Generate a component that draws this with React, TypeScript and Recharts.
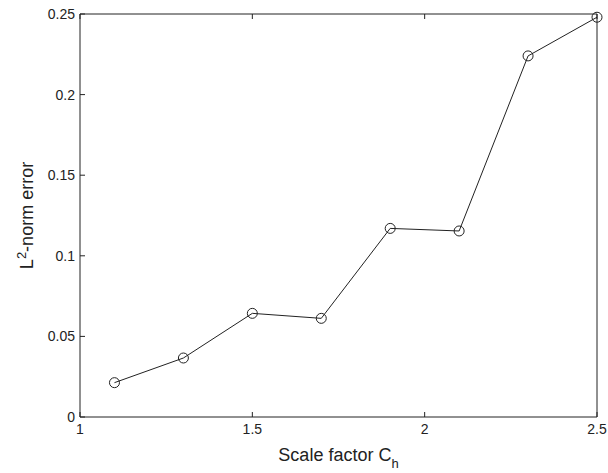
import { LineChart, Line, XAxis, YAxis, Label } from "recharts";

const scaleFactor = [1.1, 1.3, 1.5, 1.7, 1.9, 2.1, 2.3, 2.5];
const normError = [0.0213, 0.0366, 0.0643, 0.0612, 0.117, 0.1154, 0.224, 0.248];

const xTicks = [1, 1.5, 2, 2.5];
const yTicks = [0, 0.05, 0.1, 0.15, 0.2, 0.25];

const data = scaleFactor.map((x, i) => ({ x, err: normError[i] }));

const FONT = "'Liberation Sans', Arial, Helvetica, sans-serif";
const INK = "#222";

const BottomTick = ({ x, y, payload }: any) => (
  <g>
    <line x1={x} y1={y} x2={x} y2={y - 5} stroke={INK} />
    <text x={x} y={y + 17} textAnchor="middle" fontSize={14} fontFamily={FONT} fill={INK}>
      {payload.value}
    </text>
  </g>
);

const TopTick = ({ x, y }: any) => <line x1={x} y1={y} x2={x} y2={y + 5} stroke={INK} />;

const LeftTick = ({ x, y, payload }: any) => (
  <g>
    <line x1={x} y1={y} x2={x + 5} y2={y} stroke={INK} />
    <text x={x - 5} y={y + 5} textAnchor="end" fontSize={14} fontFamily={FONT} fill={INK}>
      {payload.value}
    </text>
  </g>
);

const RightTick = ({ x, y }: any) => <line x1={x} y1={y} x2={x - 5} y2={y} stroke={INK} />;

const Dot = ({ cx, cy }: any) => (
  <circle cx={cx} cy={cy} r={5} fill="none" stroke={INK} strokeWidth={1} />
);

export default function App() {
  return (
    <div style={{ position: "absolute", left: 0, top: 0, background: "#fff" }}>
      <LineChart width={608} height={473} data={data} margin={{ top: 0, right: 0, bottom: 0, left: 0 }}>
        <XAxis
          xAxisId="b"
          dataKey="x"
          type="number"
          domain={[1, 2.5]}
          ticks={xTicks}
          height={56}
          axisLine={{ stroke: INK }}
          tickLine={false}
          tickSize={0}
          tickMargin={0}
          tick={<BottomTick />}
          interval={0}
        >
          <Label
            content={({ viewBox }: any) => (
              <text
                x={viewBox.x + viewBox.width / 2}
                y={viewBox.y + 44}
                textAnchor="middle"
                fontSize={18}
                fontFamily={FONT}
                fill={INK}
              >
                Scale factor C
                <tspan dy={7} fontSize={13}>h</tspan>
              </text>
            )}
          />
        </XAxis>
        <XAxis
          xAxisId="t"
          orientation="top"
          dataKey="x"
          type="number"
          domain={[1, 2.5]}
          ticks={xTicks}
          height={14}
          axisLine={{ stroke: INK }}
          tickLine={false}
          tickSize={0}
          tickMargin={0}
          tick={<TopTick />}
          interval={0}
        />
        <YAxis
          yAxisId="l"
          type="number"
          domain={[0, 0.25]}
          ticks={yTicks}
          width={80}
          axisLine={{ stroke: INK }}
          tickLine={false}
          tickSize={0}
          tickMargin={0}
          tick={<LeftTick />}
          interval={0}
        >
          <Label
            content={({ viewBox }: any) => {
              const cx = 33;
              const cy = viewBox.y + viewBox.height / 2;
              return (
                <text
                  x={cx}
                  y={cy}
                  transform={`rotate(-90 ${cx} ${cy})`}
                  textAnchor="middle"
                  fontSize={18}
                  fontFamily={FONT}
                  fill={INK}
                >
                  L<tspan dy={-7} fontSize={13}>2</tspan>
                  <tspan dy={7}>-norm error</tspan>
                </text>
              );
            }}
          />
        </YAxis>
        <YAxis
          yAxisId="r"
          orientation="right"
          type="number"
          domain={[0, 0.25]}
          ticks={yTicks}
          width={11}
          axisLine={{ stroke: INK }}
          tickLine={false}
          tickSize={0}
          tickMargin={0}
          tick={<RightTick />}
          interval={0}
        />
        <Line
          xAxisId="b"
          yAxisId="l"
          dataKey="err"
          type="linear"
          stroke={INK}
          strokeWidth={1}
          dot={<Dot />}
          activeDot={false}
          isAnimationActive={false}
        />
      </LineChart>
    </div>
  );
}
